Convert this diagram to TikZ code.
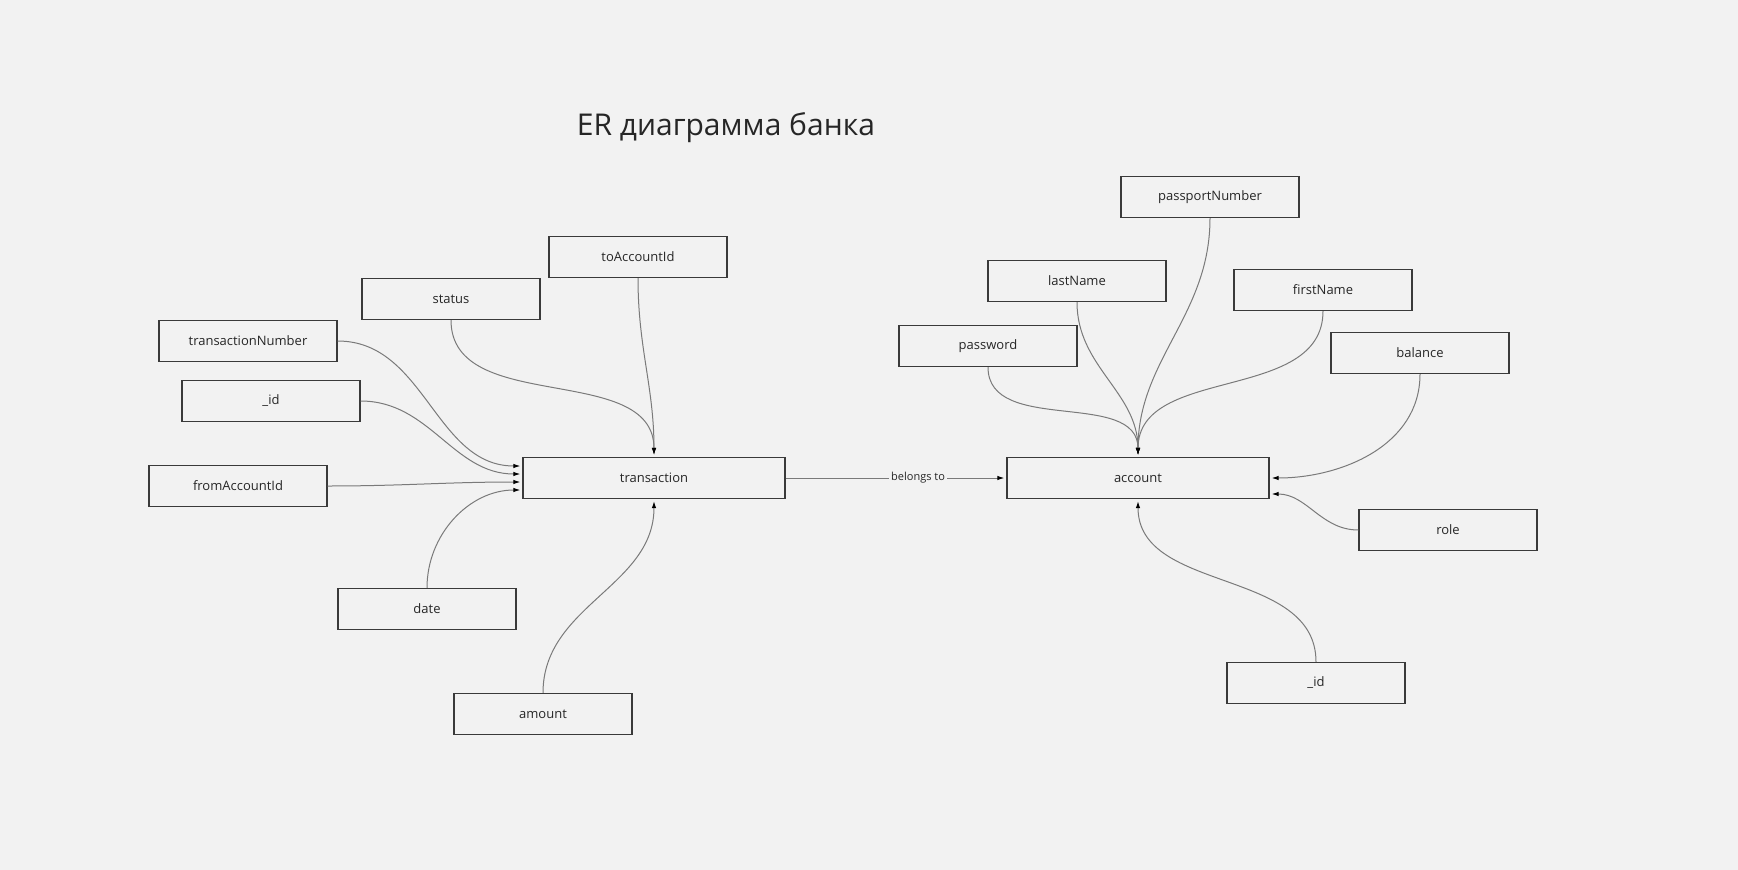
\documentclass[tikz,border=0pt]{standalone}
\usepackage{fontspec}
\setmainfont{Open Sans}
\usepackage{tikz}
\usetikzlibrary{shapes,arrows,arrows.meta}
\definecolor{canvas}{HTML}{F2F2F2}
\definecolor{boxline}{HTML}{3A3A3A}
\definecolor{wire}{HTML}{7A7A7A}
\tikzstyle{attr} = [rectangle, draw=boxline, line width=1.3pt, text=black!85,
    minimum width=178pt, minimum height=41pt, font=\fontsize{13}{15}\selectfont]
\tikzstyle{entity} = [attr, minimum width=262pt]
\tikzstyle{line} = [draw=wire, line width=1pt, shorten >=2pt,
    -{Latex[length=7pt, width=4.5pt, black]}]

\begin{document}
\begin{tikzpicture}[x=1pt, y=-1pt]
    \fill [canvas] (0,0) rectangle (1738,870);
    \node [text=black!85, font=\fontsize{30}{34}\selectfont] (title) at (726,128) {ER диаграмма банка};
    % Place nodes
    \node [entity] (transaction) at (654,478) {transaction};
    \node [entity] (account) at (1138,478) {account};
    \node [attr] (toAccountId) at (638,257) {toAccountId};
    \node [attr] (status) at (451,299) {status};
    \node [attr] (transactionNumber) at (248,341) {transactionNumber};
    \node [attr] (tid) at (271,401) {\_id};
    \node [attr] (fromAccountId) at (238,486) {fromAccountId};
    \node [attr] (date) at (427,609) {date};
    \node [attr] (amount) at (543,714) {amount};
    \node [attr] (passportNumber) at (1210,197) {passportNumber};
    \node [attr] (lastName) at (1077,281) {lastName};
    \node [attr] (firstName) at (1323,290) {firstName};
    \node [attr] (password) at (988,346) {password};
    \node [attr] (balance) at (1420,353) {balance};
    \node [attr] (role) at (1448,530) {role};
    \node [attr] (aid) at (1316,683) {\_id};
    % Draw edges
    \path [line] (transactionNumber.east) to [out=0, in=180] ([yshift=12pt]transaction.west);
    \path [line] (tid.east) to [out=0, in=180] ([yshift=4pt]transaction.west);
    \path [line] (fromAccountId.east) to [out=0, in=180] ([yshift=-4pt]transaction.west);
    \path [line] (date.north) to [out=90, in=180] ([yshift=-12pt]transaction.west);
    \path [line] (status.south) to [out=-90, in=90] (transaction.north);
    \path [line] (toAccountId.south) to [out=-90, in=90] (transaction.north);
    \path [line] (amount.north) to [out=90, in=-90] (transaction.south);
    \path [line] (transaction.east) -- node [pos=0.6, fill=canvas, inner sep=2pt,
        font=\fontsize{11}{13}\selectfont, text=black!85] (rel) {belongs to} (account.west);
    \path [line] (password.south) to [out=-90, in=90] (account.north);
    \path [line] (lastName.south) to [out=-90, in=90] (account.north);
    \path [line] (passportNumber.south) to [out=-90, in=90] (account.north);
    \path [line] (firstName.south) to [out=-90, in=90] (account.north);
    \path [line] (balance.south) to [out=-90, in=0] (account.east);
    \path [line] (role.west) to [out=180, in=0] ([yshift=-16pt]account.east);
    \path [line] (aid.north) to [out=90, in=-90] (account.south);
\end{tikzpicture}
\end{document}
